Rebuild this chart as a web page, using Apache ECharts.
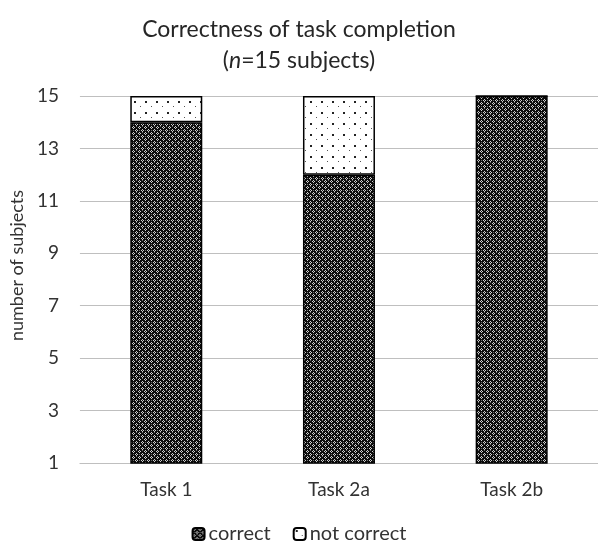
<!DOCTYPE html>
<html>
<head>
<meta charset="utf-8">
<script src="https://cdn.jsdelivr.net/npm/echarts@6/dist/echarts.min.js"></script>
<style>
  html, body { margin: 0; padding: 0; background: #fff; }
  #chart { width: 598px; height: 544px; }
</style>
</head>
<body>
<div id="chart"></div>
<script>
var tasks = ['Task 1', 'Task 2a', 'Task 2b'];
var correct = [14, 12, 15];
var notCorrect = [1, 3, 0];
var yTicks = [1, 3, 5, 7, 9, 11, 13, 15];

// dark diamond-ish hatch for "correct"
function darkPattern() {
  var c = document.createElement('canvas');
  c.width = 6; c.height = 6;
  var g = c.getContext('2d');
  g.fillStyle = '#0c0c0c';
  g.fillRect(0, 0, 6, 6);
  g.fillStyle = '#d0d0d0';
  g.fillRect(1, 0, 1, 1); g.fillRect(0, 1, 1, 1); g.fillRect(2, 1, 1, 1); g.fillRect(1, 2, 1, 1);
  g.fillRect(4, 3, 1, 1); g.fillRect(3, 4, 1, 1); g.fillRect(5, 4, 1, 1); g.fillRect(4, 5, 1, 1);
  g.fillStyle = '#666';
  g.fillRect(4, 0, 1, 1); g.fillRect(1, 4, 1, 1);
  return c;
}

// sparse dots for "not correct"
function dotPattern() {
  var c = document.createElement('canvas');
  c.width = 11; c.height = 11;
  var g = c.getContext('2d');
  g.fillStyle = '#fff';
  g.fillRect(0, 0, 11, 11);
  g.fillStyle = '#222';
  g.fillRect(2, 2, 2, 2);
  g.fillStyle = '#555';
  g.fillRect(8, 7, 1, 1);
  return c;
}

var chart = echarts.init(document.getElementById('chart'));
var font = 'Lato, "Open Sans", sans-serif';

chart.setOption({
  animation: false,
  textStyle: { fontFamily: font },
  title: {
    left: 'center',
    top: 9,
    text: 'Correctness of task completion\n{p|(}{i|n}{p|=15 subjects)}',
    textStyle: {
      fontFamily: font,
      fontSize: 23,
      fontWeight: 'normal',
      color: '#262626',
      lineHeight: 31,
      rich: {
        p: { fontFamily: font, fontSize: 23, color: '#262626', lineHeight: 31 },
        i: { fontFamily: font, fontSize: 23, color: '#262626', fontStyle: 'italic', lineHeight: 31 }
      }
    }
  },
  legend: {
    top: 519,
    left: 'center',
    itemWidth: 12,
    itemHeight: 12,
    itemGap: 22,
    textStyle: { fontFamily: font, fontSize: 20, color: '#333', padding: [0, 0, 0, -1] },
    data: ['correct', 'not correct']
  },
  grid: { left: 79, right: -5, top: 96, bottom: 81 },
  xAxis: {
    type: 'category',
    data: tasks,
    axisTick: { show: false },
    axisLine: { lineStyle: { color: '#bfbfbf', width: 1 } },
    axisLabel: { fontFamily: font, fontSize: 19, color: '#333', margin: 17 }
  },
  yAxis: {
    type: 'value',
    min: yTicks[0],
    max: yTicks[yTicks.length - 1],
    interval: 2,
    name: 'number of subjects',
    nameLocation: 'middle',
    nameGap: 52,
    nameTextStyle: { fontFamily: font, fontSize: 18, color: '#333', padding: [0, 0, 0, 28] },
    axisLine: { show: false },
    axisTick: { show: false },
    axisLabel: { fontFamily: font, fontSize: 19, color: '#333', margin: 21 },
    splitLine: { lineStyle: { color: '#bfbfbf', width: 1 } }
  },
  series: [
    {
      name: 'correct',
      type: 'bar',
      stack: 'all',
      barWidth: 72,
      data: correct,
      itemStyle: {
        color: { image: darkPattern(), repeat: 'repeat' },
        borderColor: '#000',
        borderWidth: 1.5
      }
    },
    {
      name: 'not correct',
      type: 'bar',
      stack: 'all',
      barWidth: 72,
      data: notCorrect,
      itemStyle: {
        color: { image: dotPattern(), repeat: 'repeat' },
        borderColor: '#000',
        borderWidth: 1.5
      }
    }
  ]
});
</script>
</body>
</html>
